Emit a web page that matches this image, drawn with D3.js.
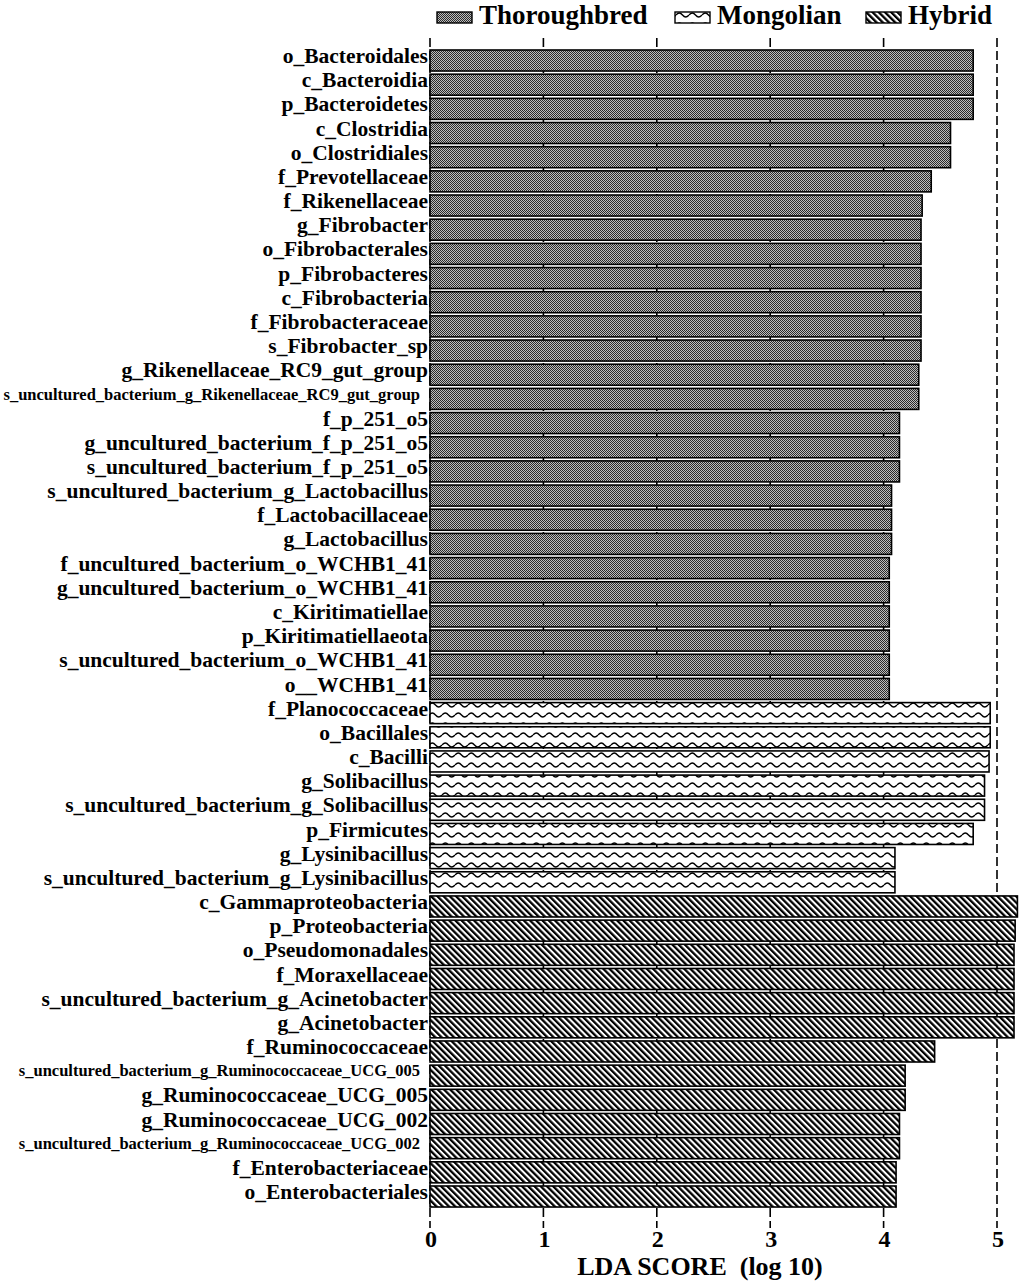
<!DOCTYPE html>
<html>
<head>
<meta charset="utf-8">
<script src="https://cdn.jsdelivr.net/npm/d3@7"></script>
<style>
  body { margin: 0; background: #fff; }
  text { font-family: "Liberation Serif", "Times New Roman", serif; font-weight: bold; }
</style>
</head>
<body>
<div id="chart"></div>
<script>
// Taxa, top to bottom, with their group and LDA score
const taxa = [
  "o_Bacteroidales", "c_Bacteroidia", "p_Bacteroidetes", "c_Clostridia", "o_Clostridiales",
  "f_Prevotellaceae", "f_Rikenellaceae", "g_Fibrobacter", "o_Fibrobacterales", "p_Fibrobacteres",
  "c_Fibrobacteria", "f_Fibrobacteraceae", "s_Fibrobacter_sp", "g_Rikenellaceae_RC9_gut_group",
  "s_uncultured_bacterium_g_Rikenellaceae_RC9_gut_group", "f_p_251_o5",
  "g_uncultured_bacterium_f_p_251_o5", "s_uncultured_bacterium_f_p_251_o5",
  "s_uncultured_bacterium_g_Lactobacillus", "f_Lactobacillaceae", "g_Lactobacillus",
  "f_uncultured_bacterium_o_WCHB1_41", "g_uncultured_bacterium_o_WCHB1_41", "c_Kiritimatiellae",
  "p_Kiritimatiellaeota", "s_uncultured_bacterium_o_WCHB1_41", "o__WCHB1_41",
  "f_Planococcaceae", "o_Bacillales", "c_Bacilli", "g_Solibacillus",
  "s_uncultured_bacterium_g_Solibacillus", "p_Firmicutes", "g_Lysinibacillus",
  "s_uncultured_bacterium_g_Lysinibacillus",
  "c_Gammaproteobacteria", "p_Proteobacteria", "o_Pseudomonadales", "f_Moraxellaceae",
  "s_uncultured_bacterium_g_Acinetobacter", "g_Acinetobacter", "f_Ruminococcaceae",
  "s_uncultured_bacterium_g_Ruminococcaceae_UCG_005", "g_Ruminococcaceae_UCG_005",
  "g_Ruminococcaceae_UCG_002", "s_uncultured_bacterium_g_Ruminococcaceae_UCG_002",
  "f_Enterobacteriaceae", "o_Enterobacteriales"
];

const groupOf = [
  "Thoroughbred", "Thoroughbred", "Thoroughbred", "Thoroughbred", "Thoroughbred",
  "Thoroughbred", "Thoroughbred", "Thoroughbred", "Thoroughbred", "Thoroughbred",
  "Thoroughbred", "Thoroughbred", "Thoroughbred", "Thoroughbred",
  "Thoroughbred", "Thoroughbred",
  "Thoroughbred", "Thoroughbred",
  "Thoroughbred", "Thoroughbred", "Thoroughbred",
  "Thoroughbred", "Thoroughbred", "Thoroughbred",
  "Thoroughbred", "Thoroughbred", "Thoroughbred",
  "Mongolian", "Mongolian", "Mongolian", "Mongolian",
  "Mongolian", "Mongolian", "Mongolian",
  "Mongolian",
  "Hybrid", "Hybrid", "Hybrid", "Hybrid",
  "Hybrid", "Hybrid", "Hybrid",
  "Hybrid", "Hybrid",
  "Hybrid", "Hybrid",
  "Hybrid", "Hybrid"
];

const ldaScores = [
  4.79, 4.79, 4.79, 4.59, 4.59,
  4.42, 4.34, 4.33, 4.33, 4.33,
  4.33, 4.33, 4.33, 4.31,
  4.31, 4.14,
  4.14, 4.14,
  4.07, 4.07, 4.07,
  4.05, 4.05, 4.05,
  4.05, 4.05, 4.05,
  4.94, 4.94, 4.93, 4.89,
  4.89, 4.79, 4.10,
  4.10,
  5.18, 5.16, 5.15, 5.15,
  5.15, 5.15, 4.45,
  4.19, 4.19,
  4.14, 4.14,
  4.11, 4.11
];

// labels drawn in a smaller font in the original
const smallLabels = [
  "s_uncultured_bacterium_g_Rikenellaceae_RC9_gut_group",
  "s_uncultured_bacterium_g_Ruminococcaceae_UCG_005",
  "s_uncultured_bacterium_g_Ruminococcaceae_UCG_002"
];

const groups = ["Thoroughbred", "Mongolian", "Hybrid"];
const xTicks = [0, 1, 2, 3, 4, 5];

const data = taxa.map((t, i) => ({ taxon: t, group: groupOf[i], score: ldaScores[i] }));

const W = 1021, H = 1282;
const svg = d3.select("#chart").append("svg")
  .attr("width", W)
  .attr("height", H);

// patterns for the three groups
const defs = svg.append("defs");

const pGray = defs.append("pattern")
  .attr("id", "pat-Thoroughbred")
  .attr("patternUnits", "userSpaceOnUse")
  .attr("width", 2).attr("height", 2);
pGray.append("rect").attr("width", 2).attr("height", 2).attr("fill", "#bdbdbd");
pGray.append("rect").attr("x", 0).attr("y", 0).attr("width", 1).attr("height", 1).attr("fill", "#2a2a2a");
pGray.append("rect").attr("x", 1).attr("y", 1).attr("width", 1).attr("height", 1).attr("fill", "#2a2a2a");

// wavy lines for Mongolian, two rows per bar
const pWave = defs.append("pattern")
  .attr("id", "pat-Mongolian")
  .attr("patternUnits", "userSpaceOnUse")
  .attr("width", 13).attr("height", 10);
pWave.append("rect").attr("width", 13).attr("height", 10).attr("fill", "#fff");
pWave.append("path")
  .attr("d", "M0,5 Q3.25,1 6.5,5 T13,5")
  .attr("fill", "none")
  .attr("stroke", "#000")
  .attr("stroke-width", 1.3);

const pStripe = defs.append("pattern")
  .attr("id", "pat-Hybrid")
  .attr("patternUnits", "userSpaceOnUse")
  .attr("width", 4.4).attr("height", 10)
  .attr("patternTransform", "rotate(-45)");
pStripe.append("rect").attr("width", 4.4).attr("height", 10).attr("fill", "#fff");
pStripe.append("rect").attr("width", 2.3).attr("height", 10).attr("fill", "#000");

// scales
const x = d3.scaleLinear().domain([0, 5]).range([430, 997]);

const step = 24.17;
const y = d3.scaleBand()
  .domain(taxa)
  .range([50 - 0.065 * step, 50 - 0.065 * step + taxa.length * step])
  .paddingInner(0.13)
  .paddingOuter(0.065);

const gridTop = 38, gridBottom = 1228;

// dashed reference lines at each tick
svg.append("g")
  .selectAll("line")
  .data(xTicks)
  .join("line")
  .attr("x1", d => x(d)).attr("x2", d => x(d))
  .attr("y1", gridTop).attr("y2", gridBottom)
  .attr("stroke", "#000")
  .attr("stroke-width", 1.6)
  .attr("stroke-dasharray", "9,4");

// bars
svg.append("g")
  .selectAll("rect")
  .data(data)
  .join("rect")
  .attr("x", x(0))
  .attr("y", d => y(d.taxon))
  .attr("width", d => x(d.score) - x(0))
  .attr("height", y.bandwidth())
  .attr("fill", d => `url(#pat-${d.group})`)
  .attr("stroke", "#000")
  .attr("stroke-width", 1.6);

// taxon labels
svg.append("g")
  .selectAll("text")
  .data(data)
  .join("text")
  .attr("x", d => smallLabels.includes(d.taxon) ? 420 : 428)
  .attr("y", d => y(d.taxon) + y.bandwidth() / 2)
  .attr("dy", d => smallLabels.includes(d.taxon) ? "0.05em" : "0.12em")
  .attr("text-anchor", "end")
  .style("font-size", d => smallLabels.includes(d.taxon) ? "16.5px" : "21.5px")
  .text(d => d.taxon);

// x axis tick labels
svg.append("g")
  .selectAll("text")
  .data(xTicks)
  .join("text")
  .attr("x", d => x(d) + 1)
  .attr("y", 1247)
  .attr("text-anchor", "middle")
  .style("font-size", "24px")
  .text(d => d);

// x axis title
svg.append("text")
  .attr("x", 700)
  .attr("y", 1275)
  .attr("text-anchor", "middle")
  .style("font-size", "26px")
  .style("white-space", "pre")
  .text("LDA SCORE  (log 10)");

// legend
const legendX = [437, 675, 866];
const legend = svg.append("g");
groups.forEach((g, i) => {
  legend.append("rect")
    .attr("x", legendX[i])
    .attr("y", 12)
    .attr("width", 35)
    .attr("height", 11)
    .attr("fill", `url(#pat-${g})`)
    .attr("stroke", "#000")
    .attr("stroke-width", 1.4);
  legend.append("text")
    .attr("x", legendX[i] + 42)
    .attr("y", 24)
    .style("font-size", "27px")
    .text(g);
});
</script>
</body>
</html>
